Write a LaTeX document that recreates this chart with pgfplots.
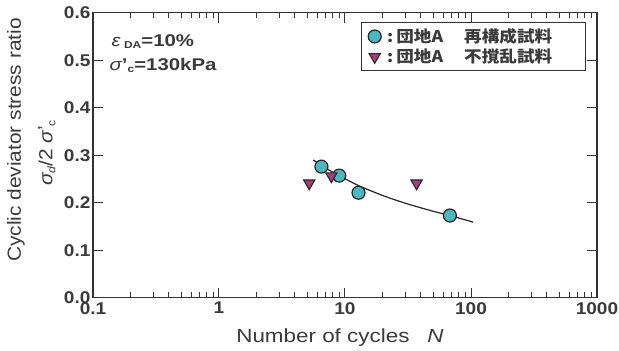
\documentclass[border=0pt]{standalone}
\usepackage{pgfplots}
\pgfplotsset{compat=1.18}
\usepackage{fontspec}
\setmainfont{Liberation Sans}
\newfontfamily\cjk{Noto Sans CJK JP}
\definecolor{axc}{HTML}{333333}
\definecolor{txc}{HTML}{3A3A3A}
\definecolor{cyanf}{HTML}{4DB6BE}
\definecolor{magf}{HTML}{A2407E}
\newcommand\sx[1]{\scalebox{1.12}[1]{#1}}
\begin{document}
\begin{tikzpicture}[x=1pt,y=1pt]
\begin{axis}[
  at={(93pt,53.3pt)}, anchor=south west,
  width=504pt, height=285pt, scale only axis,
  xmode=log, xmin=0.1, xmax=1000, ymin=0, ymax=0.6,
  axis line style={draw=axc, line width=1.4pt},
  every tick/.style={draw=axc, line width=1pt},
  tick align=inside,
  major tick length=10pt, minor tick length=5.5pt,
  xtick={0.1,1,10,100,1000},
  xticklabels={\sx{0.1},\sx{1},\sx{10},\sx{100},\sx{1000}},
  minor xtick={0.2,0.3,0.4,0.5,0.6,0.7,0.8,0.9,2,3,4,5,6,7,8,9,20,30,40,50,60,70,80,90,200,300,400,500,600,700,800,900},
  ytick={0,0.1,0.2,0.3,0.4,0.5,0.6},
  yticklabels={\sx{0.0},\sx{0.1},\sx{0.2},\sx{0.3},\sx{0.4},\sx{0.5},\sx{0.6}},
  minor y tick num=0,
  /pgf/number format/assume math mode=true,
  tick label style={font=\fontsize{17}{18}\selectfont\bfseries, text=txc},
  xticklabel style={yshift=-1pt},
  yticklabel style={xshift=1pt},
  legend style={at={(0.978,0.967)}, anchor=north east, draw=axc, line width=1.3pt,
    font=\fontsize{16}{18}\selectfont\cjk\bfseries, text=txc,
    inner xsep=7pt, inner ysep=4pt, row sep=1pt, legend cell align=left},
  clip=false,
]
\addplot[black!85, line width=1.2pt, smooth, forget plot] coordinates {
(5.6,0.290) (7,0.273) (9,0.257) (12.8,0.236) (20,0.215) (30,0.199) (50,0.182) (68,0.173) (104,0.159)};
\addplot[only marks, mark=*, mark size=6.5pt, mark options={fill=cyanf, draw=black!85, line width=1.2pt}] coordinates {
(6.5,0.276) (9.0,0.257) (12.8,0.221) (68,0.173)};
\addlegendentry{\hspace*{4pt}\scalebox{1.1}[1]{:\,団地A\hspace{1.2em}再構成試料}\hspace*{24pt}}
\addplot[only marks, mark=triangle*, mark size=6.5pt, mark options={rotate=180, fill=magf, draw=black!85, line width=1.1pt}] coordinates {
(5.2,0.241) (7.8,0.256) (37,0.241)};
\addlegendentry{\hspace*{4pt}\scalebox{1.1}[1]{:\,団地A\hspace{1.2em}不撹乱試料}\hspace*{24pt}}
\node[anchor=west, text=txc, font=\fontsize{17}{18}\selectfont] at (rel axis cs:0.030,0.897) {\scalebox{1.2}[1]{\itshape ε\,\upshape\raisebox{-2pt}{\fontsize{10}{10}\selectfont\bfseries DA}\bfseries=10\%}};
\node[anchor=west, text=txc, font=\fontsize{17}{18}\selectfont] at (rel axis cs:0.026,0.816) {\scalebox{1.2}[1]{\itshape σ\upshape\bfseries '\raisebox{-2pt}{\fontsize{10}{10}\selectfont c}=130kPa}};
\end{axis}
\node[rotate=90, text=txc, font=\fontsize{19}{20}\selectfont] at (16,211) {\scalebox{1.1}[1]{Cyclic deviator stress ratio}};
\node[rotate=90, text=txc, font=\fontsize{19}{19}\selectfont] at (47,198) {\scalebox{1.1}[1]{\itshape σ\raisebox{-3pt}{\fontsize{11}{11}\selectfont d}\upshape/2 \itshape σ\upshape\raisebox{1pt}{'}\raisebox{-3pt}{\fontsize{11}{11}\selectfont c}}};
\node[text=txc, font=\fontsize{19}{20}\selectfont] at (340,13) {\scalebox{1.18}[1]{Number of cycles\hspace{0.8em}\itshape N}};
\pgfresetboundingbox
\path[use as bounding box] (0,0) rectangle (619,351);
\end{tikzpicture}
\end{document}
